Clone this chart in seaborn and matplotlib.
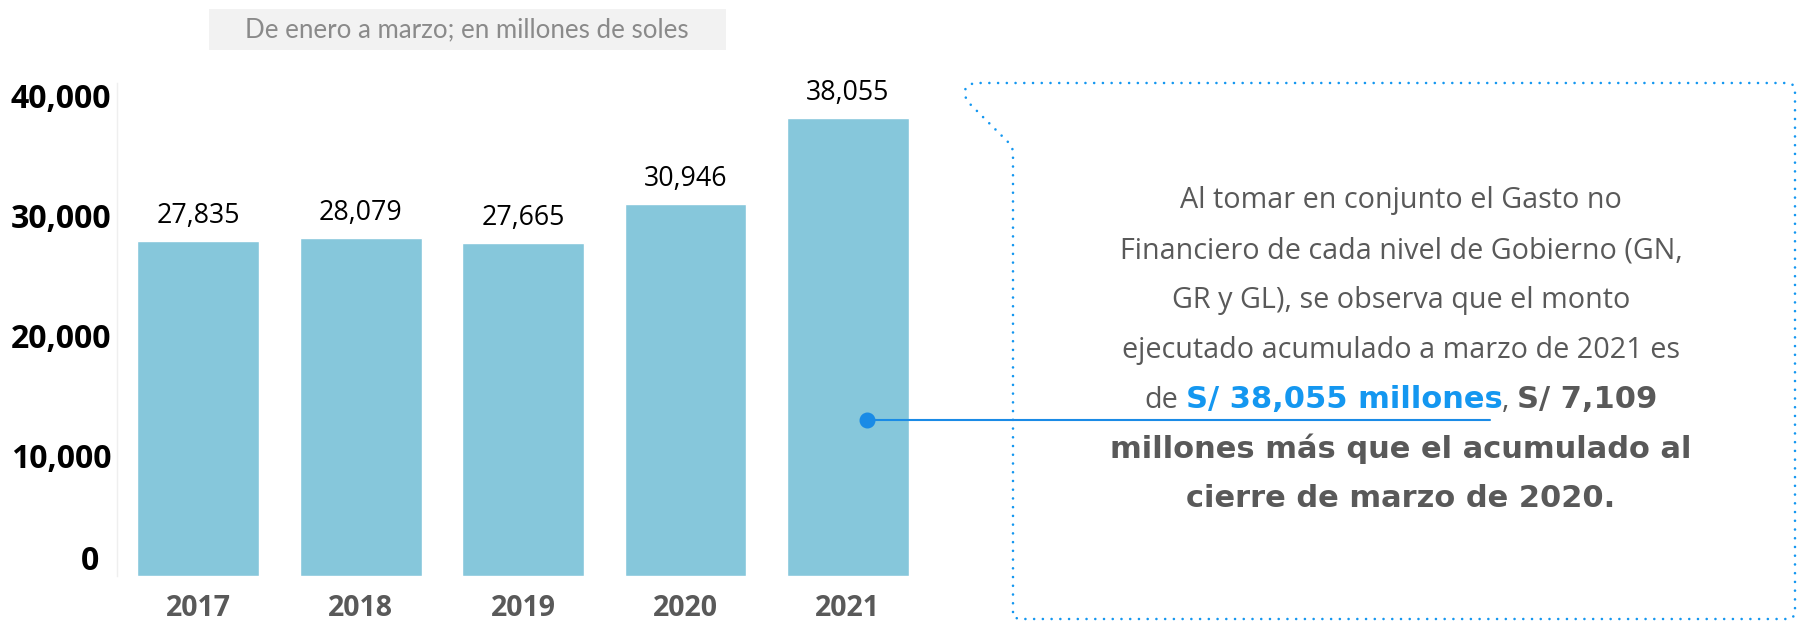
import matplotlib
matplotlib.use("Agg")
import matplotlib.pyplot as plt
import matplotlib.transforms as mtransforms
import seaborn as sns
import pandas as pd
from matplotlib.path import Path
from matplotlib.patches import PathPatch, Rectangle
from matplotlib.lines import Line2D

# data
years = ["2017", "2018", "2019", "2020", "2021"]
gasto = [27835, 28079, 27665, 30946, 38055]
yticks = [0, 10000, 20000, 30000, 40000]
subtitle = "De enero a marzo; en millones de soles"
note_plain = [
    "Al tomar en conjunto el Gasto no",
    "Financiero de cada nivel de Gobierno (GN,",
    "GR y GL), se observa que el monto",
    "ejecutado acumulado a marzo de 2021 es",
]
note_mixed = ["de", "S/ 38,055 millones", ",", "S/ 7,109"]
note_bold = [
    "millones más que el acumulado al",
    "cierre de marzo de 2020.",
]

BAR = "#86c7db"
BLUE = "#1497f0"
LINE_BLUE = "#1a8be6"
GRAY = "#595959"

W, H = 1797, 622

sns.set_theme(style="white")
plt.rcParams["font.family"] = ["Open Sans", "DejaVu Sans"]

fig = plt.figure(figsize=(W / 100, H / 100), dpi=100)
fig.patch.set_facecolor("white")


def fx(x):
    return x / W


def fy(y):
    # y measured from the top, in pixels
    return 1 - y / H


ax = fig.add_axes([fx(117), 46 / H, 812 / W, 493 / H])
df = pd.DataFrame({"year": years, "gasto": gasto})
sns.barplot(data=df, x="year", y="gasto", color=BAR, saturation=1,
            width=0.75, ax=ax)
ax.set_xlim(-0.5, 4.5)
ax.set_ylim(0, 41000)
ax.set_xlabel("")
ax.set_ylabel("")
for s in ["top", "right", "bottom"]:
    ax.spines[s].set_visible(False)
ax.spines["left"].set_color("#efefef")
ax.spines["left"].set_linewidth(1)

ax.set_yticks(yticks)
ax.set_yticklabels([f"{v:,}" for v in yticks], fontsize=23,
                   fontweight="bold", color="black")
ax.tick_params(axis="y", length=0, pad=4)
ax.tick_params(axis="x", length=0, pad=13, labelsize=20.5, labelcolor=GRAY)
for lbl in ax.get_xticklabels():
    lbl.set_fontweight("bold")

# the zero label sits a bit higher and to the left
zero = ax.get_yticklabels()[0]
zero.set_transform(zero.get_transform() +
                   mtransforms.ScaledTranslation(-0.12, 0.18, fig.dpi_scale_trans))

ax.bar_label(ax.containers[0], labels=[f"{v:,}" for v in gasto],
             fontsize=19.3, color="black", padding=8)

# subtitle box
fig.add_artist(Rectangle((fx(209), fy(50)), 517 / W, 41 / H,
                         transform=fig.transFigure, facecolor="#f2f2f2",
                         edgecolor="none"))
fig.text(fx(467), fy(30), subtitle, fontsize=18.6, color="#8a8a8a",
         ha="center", va="center", family=["Lato", "DejaVu Sans"])

# dotted callout box
pts = [
    ((1013, 612), Path.MOVETO),
    ((1013, 153), Path.LINETO),
    ((1013, 147), Path.CURVE3), ((1008, 142), Path.CURVE3),
    ((970, 104), Path.LINETO),
    ((962, 96), Path.CURVE4), ((962, 83), Path.CURVE4), ((978, 83), Path.CURVE4),
    ((1787, 83), Path.LINETO),
    ((1795, 83), Path.CURVE3), ((1795, 91), Path.CURVE3),
    ((1795, 611), Path.LINETO),
    ((1795, 619), Path.CURVE3), ((1787, 619), Path.CURVE3),
    ((1021, 619), Path.LINETO),
    ((1013, 619), Path.CURVE3), ((1013, 612), Path.CURVE3),
]
path = Path([(fx(x), fy(y)) for (x, y), _ in pts], [c for _, c in pts])
box = PathPatch(path, transform=fig.transFigure, facecolor="none",
                edgecolor=BLUE, linewidth=1.9, linestyle=(0, (0.01, 3.3)))
box.set_capstyle("round")
fig.add_artist(box)

# note text: regular in Open Sans, bold parts in a wider bold face
renderer = fig.canvas.get_renderer()
XC = 1401
SIZE = 20.7
BSIZE = 22
BOLD_FONT = ["DejaVu Sans"]
baselines = [208, 258, 308, 358, 408, 458, 507]

for txt, yb in zip(note_plain, baselines[:4]):
    fig.text(fx(XC), fy(yb), txt, fontsize=SIZE, color=GRAY,
             ha="center", va="baseline")
for txt, yb in zip(note_bold, baselines[5:]):
    fig.text(fx(XC), fy(yb), txt, fontsize=BSIZE, color=GRAY,
             fontweight="bold", family=BOLD_FONT, ha="center", va="baseline")


def width_of(t):
    return t.get_window_extent(renderer).width


probe_a = fig.text(0, 0, "aa", fontsize=SIZE)
probe_b = fig.text(0, 0, "a a", fontsize=SIZE)
space = width_of(probe_b) - width_of(probe_a)
probe_a.remove()
probe_b.remove()

styles = [(False, GRAY), (True, BLUE), (False, GRAY), (True, GRAY)]
gaps = [space, 0, space, 0]
runs = []
total = 0
for txt, (bold, col), gap in zip(note_mixed, styles, gaps):
    if bold:
        t = fig.text(0, fy(baselines[4]), txt, fontsize=BSIZE,
                     fontweight="bold", family=BOLD_FONT, color=col,
                     ha="left", va="baseline")
    else:
        t = fig.text(0, fy(baselines[4]), txt, fontsize=SIZE, color=col,
                     ha="left", va="baseline")
    w = width_of(t)
    runs.append((t, w, gap))
    total += w + gap
x = XC - total / 2
ends = []
for t, w, gap in runs:
    t.set_x(fx(x))
    ends.append(x + w)
    x += w + gap

# connector from the 2021 bar to the highlighted amount
line_y = 419.5
fig.add_artist(Line2D([fx(867), fx(ends[1] - 12)], [fy(line_y), fy(line_y)],
                      transform=fig.transFigure, color=LINE_BLUE, linewidth=1.5))
fig.add_artist(Line2D([fx(867)], [fy(line_y)], transform=fig.transFigure,
                      marker="o", markersize=10.5, color=LINE_BLUE,
                      linestyle="none"))

fig.savefig("out.png", dpi=100)
